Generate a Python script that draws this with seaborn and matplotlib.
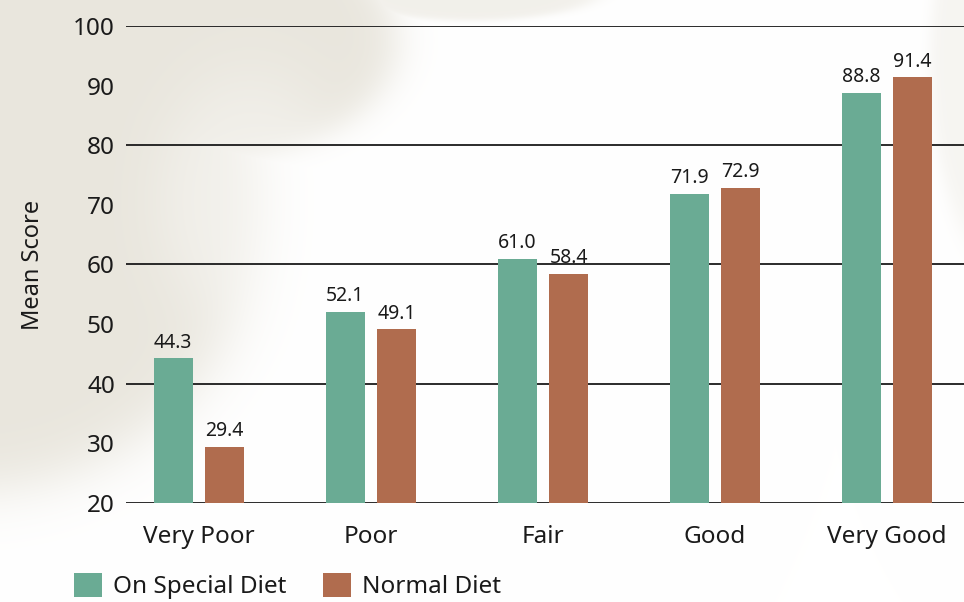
import matplotlib
matplotlib.use("Agg")

import matplotlib.pyplot as plt
import numpy as np
import pandas as pd
import seaborn as sns


# ======================================
# DATA
# ======================================

categories = ["Very Poor", "Poor", "Fair", "Good", "Very Good"]

special_diet = [44.3, 52.1, 61.0, 71.9, 88.8]

normal_diet = [29.4, 49.1, 58.4, 72.9, 91.4]

series_names = ["On Special Diet", "Normal Diet"]

y_ticks = [20, 30, 40, 50, 60, 70, 80, 90, 100]

grid_lines = [20, 40, 60, 80, 100]


# ======================================
# BUILD DATAFRAME
# ======================================

df = pd.DataFrame({
    "category": categories * 2,
    "diet": [series_names[0]] * len(categories) + [series_names[1]] * len(categories),
    "score": special_diet + normal_diet,
})


# ======================================
# STYLE
# ======================================

sns.set_style("white")
plt.rcParams["font.family"] = ["Noto Sans", "DejaVu Sans"]

GREEN = "#6aab94"
BROWN = "#b06c4e"
TEXT = "#1a1a1a"
WASH = np.array([0.914, 0.902, 0.867])


# ======================================
# FIGURE + SOFT BACKGROUND WASH
# ======================================

W, H = 964, 602

fig = plt.figure(figsize=(W / 100, H / 100), dpi=100)
fig.patch.set_facecolor("white")

yy, xx = np.mgrid[0:H, 0:W]


def soft_ellipse(cx, cy, rx, ry, edge=0.06):
    r = np.sqrt(((xx - cx) / rx) ** 2 + ((yy - cy) / ry) ** 2)
    return 1.0 / (1.0 + np.exp((r - 1.0) / edge))


mask = np.maximum.reduce([
    soft_ellipse(-30, 200, 290, 290),
    soft_ellipse(190, 40, 205, 125),
    0.6 * soft_ellipse(470, -10, 130, 30),
    0.4 * soft_ellipse(1000, 60, 70, 200),
])

# slightly lighter pocket inside the wash
mask = mask * (1 - 0.4 * soft_ellipse(250, 200, 90, 120, edge=0.2))

img = 1.0 - mask[..., None] * (1.0 - WASH)

bg = fig.add_axes([0, 0, 1, 1], zorder=-1)
bg.imshow(img, aspect="auto", interpolation="bilinear")
bg.axis("off")

ax = fig.add_axes([0.1307, 0.1645, 0.8693, 0.7923], zorder=1)
ax.set_facecolor("none")


# ======================================
# BARS
# ======================================

sns.barplot(
    data=df,
    x="category",
    y="score",
    hue="diet",
    hue_order=series_names,
    order=categories,
    palette=[GREEN, BROWN],
    width=0.6,
    gap=0.24,
    saturation=1,
    linewidth=0,
    errorbar=None,
    ax=ax,
    zorder=3,
)

for container in ax.containers:
    ax.bar_label(
        container,
        fmt="%.1f",
        padding=4,
        fontsize=14,
        color=TEXT,
    )


# ======================================
# AXES
# ======================================

ax.hlines(grid_lines, -0.5, 4.6, color="#1a1a1a", linewidth=1.3, zorder=1)

ax.set_ylim(20, 100)
ax.set_xlim(-0.424, 4.448)

ax.set_yticks(y_ticks)
ax.set_yticklabels([str(v) for v in y_ticks], fontsize=17.5, color=TEXT)

ax.tick_params(axis="y", length=0, pad=8)
ax.tick_params(axis="x", length=0, pad=16, labelsize=17.5, labelcolor=TEXT)

ax.set_xlabel("")
ax.set_ylabel("Mean Score", fontsize=17, color=TEXT)
ax.yaxis.set_label_coords(-0.097, 0.5)

sns.despine(ax=ax, left=True, bottom=True, top=True, right=True)


# ======================================
# LEGEND
# ======================================

handles, labels = ax.get_legend_handles_labels()
ax.get_legend().remove()

fig.legend(
    handles,
    labels,
    loc="lower left",
    bbox_to_anchor=(0.054, -0.032),
    ncol=2,
    frameon=False,
    fontsize=17.5,
    handlelength=1.15,
    handleheight=1.15,
    handletextpad=0.45,
    columnspacing=1.5,
    labelcolor=TEXT,
)


fig.savefig("out.png", dpi=100, facecolor=fig.get_facecolor())
